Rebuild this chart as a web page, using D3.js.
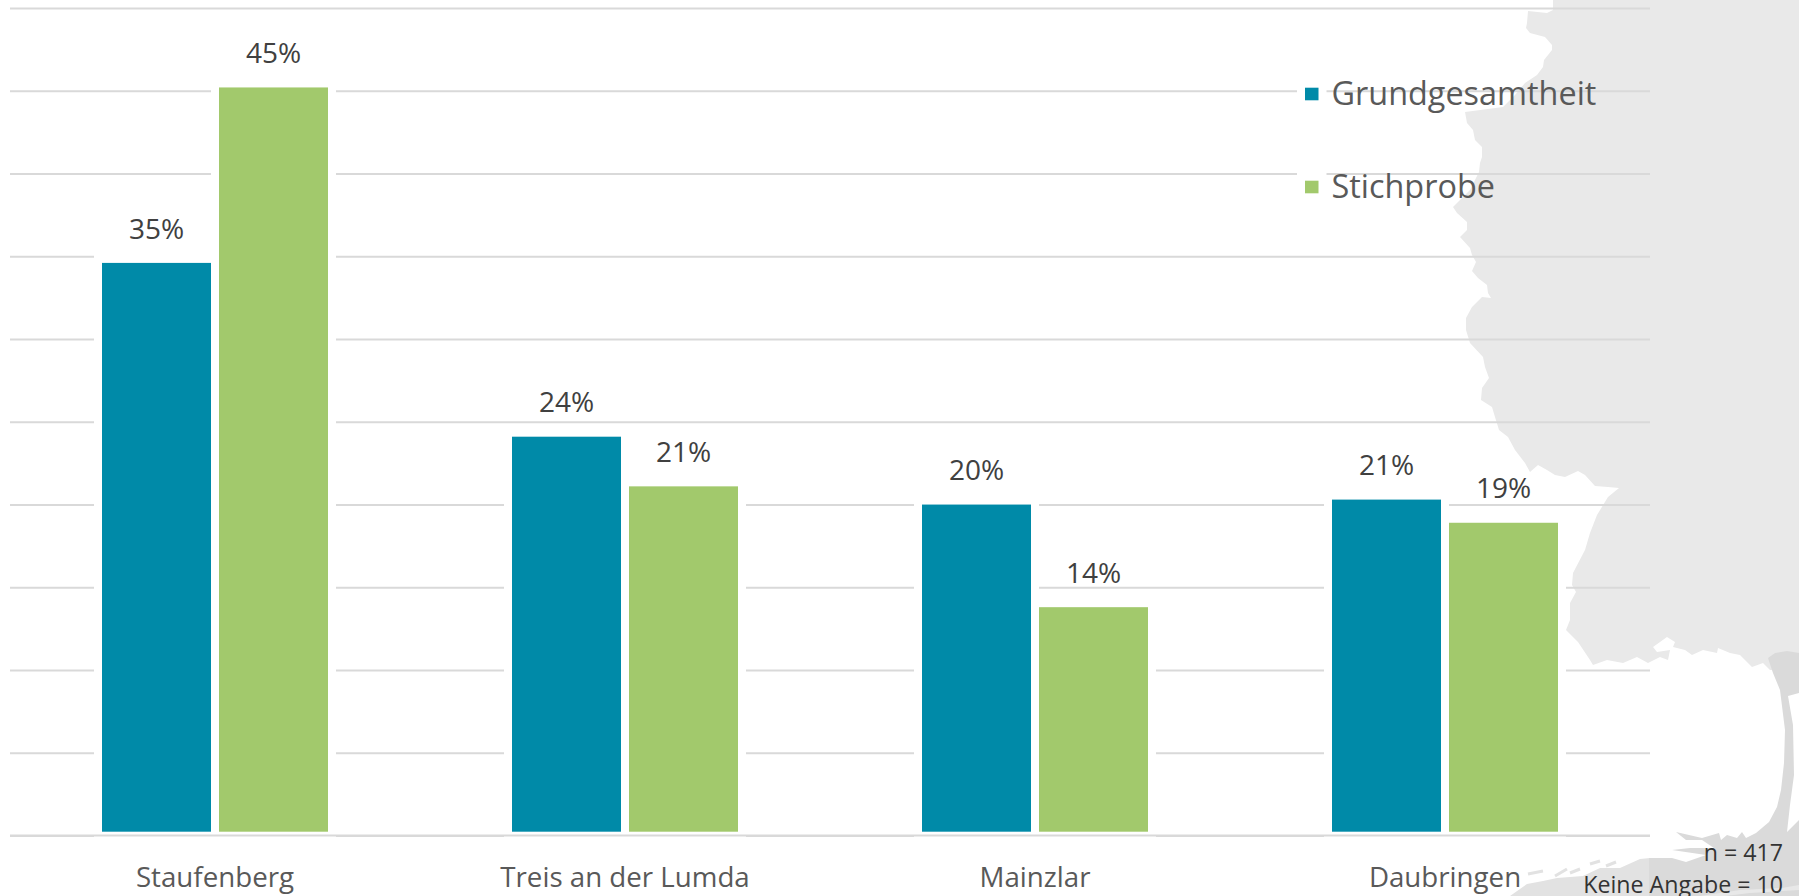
<!DOCTYPE html>
<html>
<head>
<meta charset="utf-8">
<script src="https://cdn.jsdelivr.net/npm/d3@7"></script>
<style>
  html, body { margin: 0; padding: 0; background: #fff; overflow: hidden; }
  svg { display: block; }
  text { font-family: "Open Sans", sans-serif; }
</style>
</head>
<body>
<svg id="chart" width="1799" height="896"></svg>
<script>
const categories = ['Staufenberg', 'Treis an der Lumda', 'Mainzlar', 'Daubringen']
const seriesNames = ['Grundgesamtheit', 'Stichprobe']
const grundgesamtheit = [34.6, 24.1, 20.0, 20.3]
const stichprobe = [45.2, 21.1, 13.8, 18.9]
const grundLabels = ['35%', '24%', '20%', '21%']
const stichLabels = ['45%', '21%', '14%', '19%']
const gridTicks = [0, 5, 10, 15, 20, 25, 30, 35, 40, 45, 50]
const notes = ['n = 417', 'Keine Angabe = 10']

const colors = ['#008aa8', '#a2c96c']

const svg = d3.select('#chart')

// tree silhouette in the background (traced by eye)
const crown = [[1553,0],[1553,10],[1547,13],[1528,11],[1527,23],[1526,28],[1530,33],[1545,37],[1552,45],[1552,50],[1544,60],[1543,67],[1537,75],[1525,83],[1515,95],[1503,107],[1465,112],[1467,123],[1473,130],[1475,140],[1482,147],[1482,157],[1480,163],[1479,172],[1470,190],[1453,207],[1457,213],[1467,222],[1467,230],[1460,237],[1470,248],[1472,255],[1476,262],[1472,271],[1478,278],[1487,285],[1488,293],[1491,298],[1482,297],[1472,307],[1466,318],[1466,330],[1470,343],[1483,357],[1485,367],[1489,378],[1482,388],[1481,400],[1492,407],[1495,417],[1499,430],[1508,437],[1515,450],[1525,463],[1530,472],[1538,465],[1547,470],[1555,475],[1565,477],[1578,471],[1585,475],[1595,486],[1608,487],[1619,488],[1608,497],[1597,515],[1590,533],[1585,550],[1573,573],[1572,585],[1576,592],[1570,603],[1570,620],[1566,630],[1578,642],[1590,660],[1593,665],[1607,660],[1623,663],[1637,657],[1648,663],[1660,657],[1668,660],[1670,650],[1657,652],[1653,647],[1667,637],[1675,642],[1673,647],[1685,650],[1692,655],[1703,650],[1717,653],[1718,648],[1730,653],[1740,655],[1752,667],[1763,663],[1770,670],[1799,670],[1799,0]]
const trunk = [[1768,658],[1775,653],[1787,651],[1799,653],[1799,693],[1788,696],[1793,725],[1794,775],[1790,805],[1787,832],[1799,820],[1799,896],[1649,896],[1649,858],[1672,858],[1686,862],[1706,855],[1672,850],[1690,848],[1714,848],[1702,840],[1686,840],[1676,832],[1702,838],[1719,833],[1721,840],[1727,835],[1737,838],[1742,832],[1746,838],[1756,833],[1769,822],[1777,807],[1781,790],[1784,763],[1785,730],[1780,690],[1773,673]]
const ground = [[1510,896],[1527,884],[1543,881],[1557,878],[1583,876],[1600,868],[1620,868],[1640,859],[1650,858],[1650,896]]
const streak = [[1700,896],[1740,890],[1782,888],[1799,885],[1799,890],[1750,893],[1725,896]]
const whisps = [[[1528,874],[1543,871]],[[1555,876],[1567,869]],[[1570,873],[1580,869]],[[1590,864],[1600,861]],[[1606,866],[1616,862]]]

const outline = d3.line()
svg.append('path').attr('d', outline(crown) + 'Z').attr('fill', '#e9e9e9')
svg.append('path').attr('d', outline(ground) + 'Z').attr('fill', '#e2e2e2')
svg.append('path').attr('d', outline(trunk) + 'Z').attr('fill', '#dadada')
svg.append('path').attr('d', outline(streak) + 'Z').attr('fill', '#e8e8e8')
svg.append('g').selectAll('path').data(whisps).join('path')
  .attr('d', d => outline(d))
  .attr('stroke', '#e2e2e2').attr('stroke-width', 3).attr('fill', 'none')

// scales
const x0 = d3.scaleBand().domain(categories).range([10, 1650])
const x1 = d3.scaleBand().domain(seriesNames).range([0, x0.bandwidth()])
  .paddingInner(8 / 117).paddingOuter(92 / 117)
const y = d3.scaleLinear().domain([0, 50]).range([835.6, 8])

// gridlines
const grid = svg.append('g')
  .attr('transform', 'translate(10,0)')
  .call(d3.axisLeft(y).tickValues(gridTicks).tickSize(-1640).tickFormat(''))
grid.select('.domain').remove()
grid.selectAll('line').attr('stroke', '#d9d9d9').attr('stroke-width', 2)

// bars stop a bit above the axis line, white edge cuts the gridlines
const barBottom = y(0) - 3.9
const rows = categories.flatMap((c, i) => [
  { cat: c, name: seriesNames[0], value: grundgesamtheit[i], label: grundLabels[i], color: colors[0] },
  { cat: c, name: seriesNames[1], value: stichprobe[i], label: stichLabels[i], color: colors[1] }
])

const bars = svg.append('g')
bars.selectAll('rect.halo').data(rows).join('rect')
  .attr('class', 'halo')
  .attr('x', d => x0(d.cat) + x1(d.name))
  .attr('y', d => y(d.value))
  .attr('width', x1.bandwidth())
  .attr('height', d => barBottom - y(d.value))
  .attr('fill', '#fff').attr('stroke', '#fff').attr('stroke-width', 16)
bars.selectAll('rect.bar').data(rows).join('rect')
  .attr('class', 'bar')
  .attr('x', d => x0(d.cat) + x1(d.name))
  .attr('y', d => y(d.value))
  .attr('width', x1.bandwidth())
  .attr('height', d => barBottom - y(d.value))
  .attr('fill', d => d.color)

// baseline again on top of the white edge
svg.append('line')
  .attr('x1', 10).attr('x2', 1650)
  .attr('y1', y(0)).attr('y2', y(0))
  .attr('stroke', '#d9d9d9').attr('stroke-width', 2)

// value labels
svg.append('g').selectAll('text').data(rows).join('text')
  .attr('x', d => x0(d.cat) + x1(d.name) + x1.bandwidth() / 2)
  .attr('y', d => y(d.value) - 24.3)
  .attr('text-anchor', 'middle')
  .attr('font-size', 28)
  .attr('fill', '#404040')
  .text(d => d.label)

// category labels
svg.append('g').selectAll('text').data(categories).join('text')
  .attr('x', d => x0(d) + x0.bandwidth() / 2)
  .attr('y', 886.7)
  .attr('text-anchor', 'middle')
  .attr('font-size', 27.7)
  .attr('fill', '#595959')
  .text(d => d)

// legend
const legendY = d3.scalePoint().domain(seriesNames).range([94, 187])
const legend = svg.append('g').selectAll('g').data(seriesNames).join('g')
  .attr('transform', d => 'translate(1305,' + legendY(d) + ')')
legend.append('rect')
  .attr('x', 0).attr('y', -6.3).attr('width', 13.5).attr('height', 12.6)
  .attr('fill', (d, i) => colors[i])
  .attr('stroke', '#fff').attr('stroke-width', 16).attr('paint-order', 'stroke')
legend.append('text')
  .attr('x', 26.5).attr('y', 11)
  .attr('font-size', 32.4)
  .attr('fill', '#595959')
  .text(d => d)

// sample size note
svg.append('g').selectAll('text').data(notes).join('text')
  .attr('x', 1783)
  .attr('y', (d, i) => 861 + i * 31.7)
  .attr('text-anchor', 'end')
  .attr('font-size', 23.2)
  .attr('fill', '#333')
  .text(d => d)
</script>
</body>
</html>
